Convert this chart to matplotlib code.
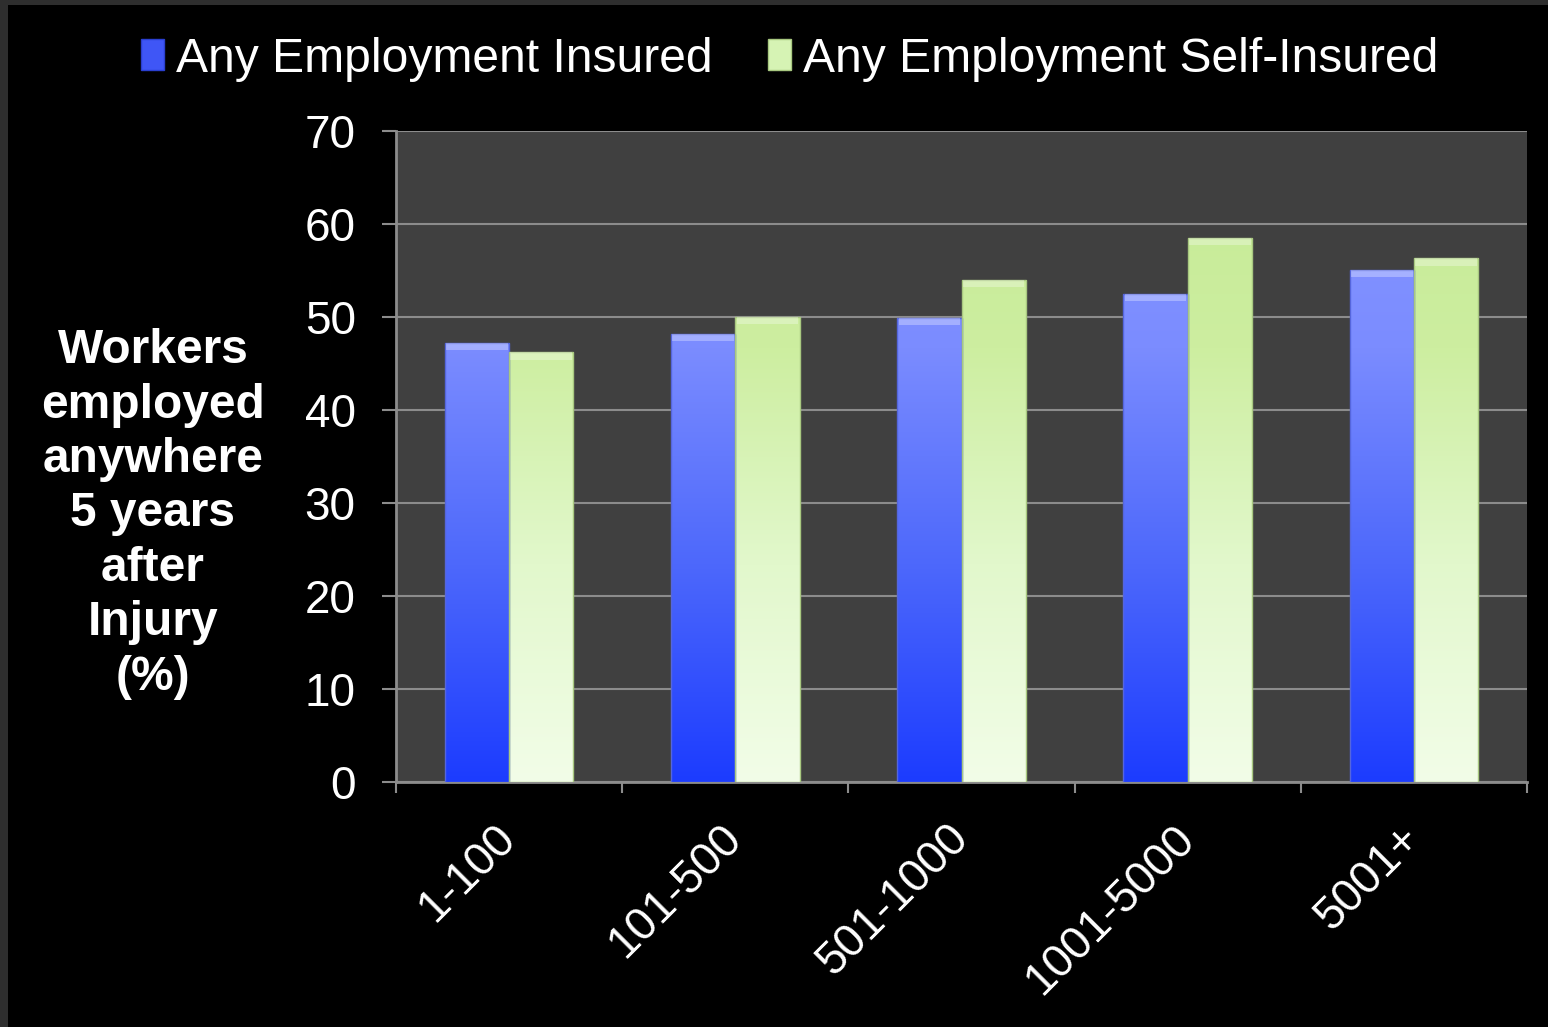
import numpy as np
import matplotlib
matplotlib.use("Agg")
import matplotlib.pyplot as plt
from matplotlib.patches import Rectangle, Patch
from matplotlib.colors import LinearSegmentedColormap

plt.rcParams['font.family'] = ['Liberation Sans', 'DejaVu Sans']

# data
categories = ['1-100', '101-500', '501-1000', '1001-5000', '5001+']
insured = [47.2, 48.2, 49.9, 52.5, 55.1]
self_insured = [46.2, 50.0, 54.0, 58.5, 56.3]
series_names = ['Any Employment Insured', 'Any Employment Self-Insured']
y_ticks = [0, 10, 20, 30, 40, 50, 60, 70]

# colour ramps (bottom -> top)
blue_cmap = LinearSegmentedColormap.from_list('blue', ['#1c3cff', '#4d68fb', '#7b8cff', '#8898ff'])
green_cmap = LinearSegmentedColormap.from_list('green', ['#f2fde8', '#e2f8cc', '#cdeea0', '#c4ea94'])

fig = plt.figure(figsize=(15.48, 10.27), dpi=100, facecolor='#2e2e2e')
# black slide background with a thin grey border on left/top
fig.patches.append(Rectangle((8 / 1548, 0), 1, 1 - 5 / 1027, transform=fig.transFigure,
                             facecolor='black', edgecolor='none', zorder=-10))

ax = fig.add_axes([396 / 1548, 1 - 782 / 1027, (1527 - 396) / 1548, (782 - 131) / 1027])
ax.set_facecolor('#404040')

x = np.arange(len(categories))
w = 0.284


def gradient_bars(xpos, values, cmap, edge):
    bars = ax.bar(xpos, values, width=w, color='none', edgecolor='none', zorder=3)
    grad = np.linspace(0, 1, 256).reshape(-1, 1)
    for b in bars:
        x0, y0 = b.get_x(), b.get_y()
        bw, bh = b.get_width(), b.get_height()
        im = ax.imshow(grad, cmap=cmap, origin='lower', aspect='auto',
                       extent=[x0, x0 + bw, 0, 70], zorder=3, interpolation='bilinear')
        im.set_clip_path(b)
        # thin outline to suggest the bevel
        ax.add_patch(Rectangle((x0, y0), bw, bh, facecolor='none', edgecolor=edge,
                               lw=1.0, zorder=4))
    # light strip at the top of each bar
    ax.bar(xpos, [0.8] * len(values), width=w * 0.96, bottom=np.array(values) - 0.8,
           color='white', alpha=0.3, edgecolor='none', zorder=4)
    return bars


gradient_bars(x - w / 2, insured, blue_cmap, '#5566dd')
gradient_bars(x + w / 2, self_insured, green_cmap, '#a8c880')

ax.set_xlim(-0.5, len(categories) - 0.5)
ax.set_ylim(0, 70)
ax.set_yticks(y_ticks)
ax.grid(axis='y', color='#8c8c8c', lw=1.5, zorder=1)
ax.set_axisbelow(True)

for s in ['top', 'right']:
    ax.spines[s].set_visible(False)
for s in ['left', 'bottom']:
    ax.spines[s].set_color('#8c8c8c')
    ax.spines[s].set_linewidth(2)

ax.tick_params(axis='y', colors='#8c8c8c', labelcolor='white', labelsize=33,
               length=10, width=1.5, pad=19)
ax.set_xticks(x)
ax.set_xticklabels(categories, rotation=45, ha='right', va='center',
                   rotation_mode='anchor', fontsize=33, color='white')
ax.tick_params(axis='x', which='major', length=0, pad=36)
ax.set_xticks(np.arange(-0.5, len(categories), 1), minor=True)
ax.tick_params(axis='x', which='minor', colors='#8c8c8c', length=8, width=1.5)

fig.text(153 / 1548, 1 - 514 / 1027,
         'Workers\nemployed\nanywhere\n5 years\nafter\nInjury\n(%)',
         ha='center', va='center', multialignment='center', fontsize=34.5,
         fontweight='bold', color='white', linespacing=1.27)

handles = [Patch(facecolor='#3f56f6', edgecolor='#2a3fd0'),
           Patch(facecolor='#d6f3b4', edgecolor='#a8c880')]
fig.legend(handles, series_names, loc='center', bbox_to_anchor=(790 / 1548, 1 - 59 / 1027),
           ncol=2, frameon=False, fontsize=34.6, labelcolor='white',
           handlelength=0.48, handleheight=0.6, handletextpad=0.25, columnspacing=1.15)

fig.savefig('out.png', dpi=100, facecolor=fig.get_facecolor())
